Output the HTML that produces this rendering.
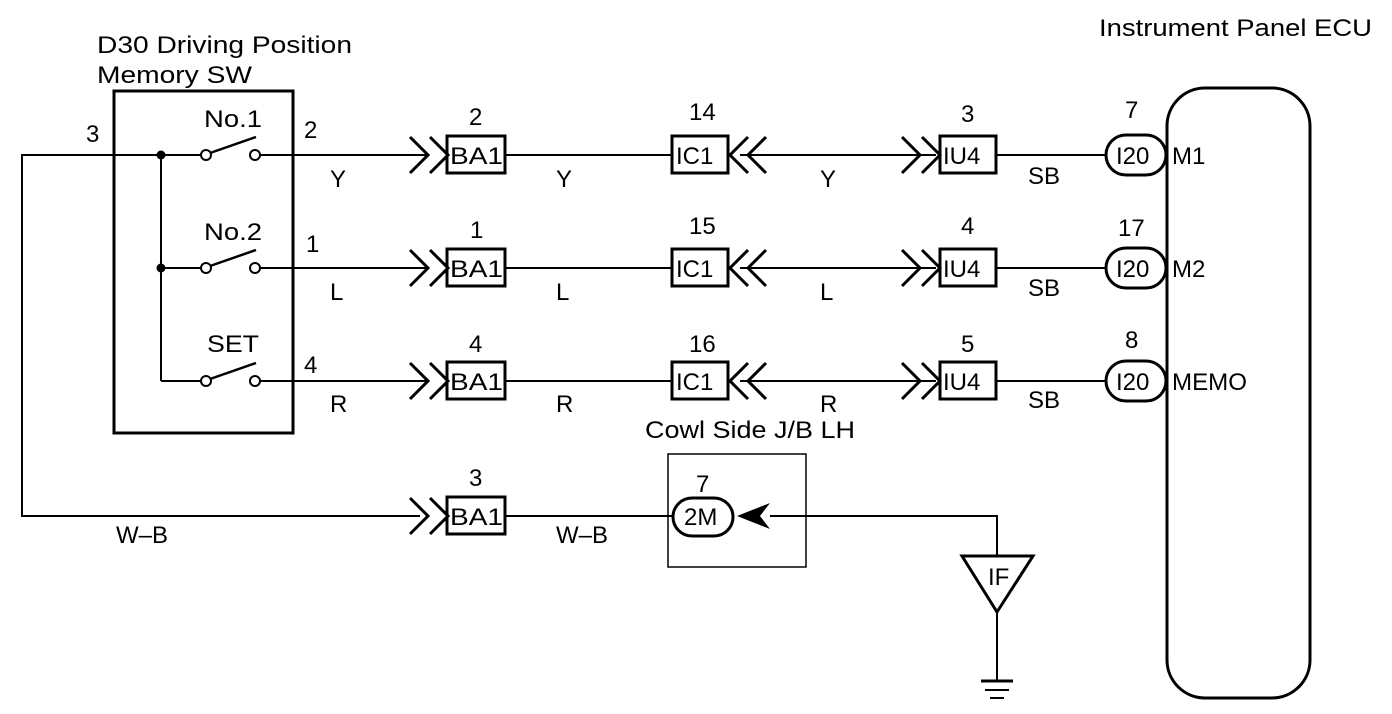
<!DOCTYPE html>
<html><head><style>
html,body{margin:0;padding:0;background:#fff;}
svg{display:block;}
text{font-family:"Liberation Sans",Arial,sans-serif;font-size:24px;fill:#000;}
</style></head><body>
<svg width="1392" height="714" viewBox="0 0 1392 714" xmlns="http://www.w3.org/2000/svg">
<g stroke="#000" fill="none" stroke-width="2">
<polyline points="420,516 22,516 22,155 161,155"/>
<rect x="114" y="91" width="179" height="342" stroke-width="3"/>
<line x1="161" y1="155" x2="161" y2="381"/>
<g>
<line x1="161" y1="155" x2="202" y2="155"/><circle cx="206" cy="155" r="5"/><line x1="210" y1="153" x2="256" y2="137" stroke-width="2.5"/><circle cx="255" cy="155" r="5"/>
<line x1="161" y1="268" x2="202" y2="268"/><circle cx="206" cy="268" r="5"/><line x1="210" y1="266" x2="256" y2="250" stroke-width="2.5"/><circle cx="255" cy="268" r="5"/>
<line x1="161" y1="381" x2="202" y2="381"/><circle cx="206" cy="381" r="5"/><line x1="210" y1="379" x2="256" y2="363" stroke-width="2.5"/><circle cx="255" cy="381" r="5"/>
</g>
<line x1="260" y1="155" x2="428" y2="155"/>
<line x1="260" y1="268" x2="428" y2="268"/>
<line x1="260" y1="381" x2="428" y2="381"/>
<line x1="506" y1="155" x2="671" y2="155"/>
<line x1="506" y1="268" x2="671" y2="268"/>
<line x1="506" y1="381" x2="671" y2="381"/>
<line x1="740" y1="155" x2="936" y2="155"/>
<line x1="740" y1="268" x2="936" y2="268"/>
<line x1="740" y1="381" x2="936" y2="381"/>
<line x1="997" y1="155" x2="1106" y2="155"/>
<line x1="997" y1="268" x2="1106" y2="268"/>
<line x1="997" y1="381" x2="1106" y2="381"/>
<line x1="506" y1="516" x2="672" y2="516"/>
<g stroke-width="3">
<polyline points="410,137 428,155 410,173"/><polyline points="430,137 448,155 430,173"/>
<polyline points="410,250 428,268 410,286"/><polyline points="430,250 448,268 430,286"/>
<polyline points="410,363 428,381 410,399"/><polyline points="430,363 448,381 430,399"/>
<polyline points="410,498 428,516 410,534"/><polyline points="430,498 448,516 430,534"/>
<polyline points="748,137 730,155 748,173"/><polyline points="766,137 748,155 766,173"/>
<polyline points="748,250 730,268 748,286"/><polyline points="766,250 748,268 766,286"/>
<polyline points="748,363 730,381 748,399"/><polyline points="766,363 748,381 766,399"/>
<polyline points="902,137 920,155 902,173"/><polyline points="922,137 940,155 922,173"/>
<polyline points="902,250 920,268 902,286"/><polyline points="922,250 940,268 922,286"/>
<polyline points="902,363 920,381 902,399"/><polyline points="922,363 940,381 922,399"/>
</g>
<g stroke-width="3">
<rect x="447" y="136" width="58" height="37"/><rect x="447" y="249" width="58" height="37"/><rect x="447" y="362" width="58" height="37"/><rect x="447" y="497" width="58" height="37"/>
<rect x="672" y="136" width="56" height="37"/><rect x="672" y="249" width="56" height="37"/><rect x="672" y="362" width="56" height="37"/>
<rect x="940" y="136" width="56" height="37"/><rect x="940" y="249" width="56" height="37"/><rect x="940" y="362" width="56" height="37"/>
<rect x="1106" y="135" width="60" height="40" rx="20"/><rect x="1106" y="248" width="60" height="40" rx="20"/><rect x="1106" y="361" width="60" height="40" rx="20"/>
<rect x="1167" y="88" width="143" height="610" rx="38"/>
<rect x="673" y="498" width="60" height="38" rx="19"/>
</g>
<rect x="668" y="454" width="138" height="113" stroke-width="1.5"/>
<polyline points="770,516 997,516 997,555"/>
<polygon points="962,556 1033,556 997,612" stroke-width="3"/>
<line x1="997" y1="612" x2="997" y2="680"/>
<line x1="981" y1="681" x2="1013" y2="681" stroke-width="3"/>
<line x1="985" y1="690" x2="1009" y2="690"/>
<line x1="990" y1="698" x2="1004" y2="698"/>
</g>
<polygon points="737,516 770,503 760,516 770,529" fill="#000"/>
<circle cx="161" cy="155" r="4.5" fill="#000"/><circle cx="161" cy="268" r="4.5" fill="#000"/>
<text x="97" y="53" textLength="255" lengthAdjust="spacingAndGlyphs">D30 Driving Position</text>
<text x="97" y="83" textLength="155" lengthAdjust="spacingAndGlyphs">Memory SW</text>
<text x="1099" y="36" textLength="273" lengthAdjust="spacingAndGlyphs">Instrument Panel ECU</text>
<text x="86" y="142">3</text>
<text x="204" y="127" textLength="58" lengthAdjust="spacingAndGlyphs">No.1</text><text x="204" y="240" textLength="58" lengthAdjust="spacingAndGlyphs">No.2</text><text x="207" y="352" textLength="52" lengthAdjust="spacingAndGlyphs">SET</text>
<text x="304" y="138">2</text><text x="306" y="252">1</text><text x="304" y="373">4</text>
<text x="330" y="187">Y</text><text x="330" y="300">L</text><text x="330" y="412">R</text>
<text x="469" y="125">2</text><text x="470" y="238">1</text><text x="469" y="352">4</text><text x="469" y="486">3</text>
<text x="450" y="164" textLength="53" lengthAdjust="spacingAndGlyphs">BA1</text><text x="450" y="277" textLength="53" lengthAdjust="spacingAndGlyphs">BA1</text><text x="450" y="390" textLength="53" lengthAdjust="spacingAndGlyphs">BA1</text><text x="450" y="525" textLength="53" lengthAdjust="spacingAndGlyphs">BA1</text>
<text x="556" y="187">Y</text><text x="556" y="300">L</text><text x="556" y="412">R</text>
<text x="689" y="120">14</text><text x="689" y="234">15</text><text x="689" y="352">16</text>
<text x="676" y="164">IC1</text><text x="676" y="277">IC1</text><text x="676" y="390">IC1</text>
<text x="820" y="187">Y</text><text x="820" y="300">L</text><text x="820" y="412">R</text>
<text x="961" y="122">3</text><text x="961" y="234">4</text><text x="961" y="352">5</text>
<text x="943" y="164">IU4</text><text x="943" y="277">IU4</text><text x="943" y="390">IU4</text>
<text x="1028" y="184">SB</text><text x="1028" y="296">SB</text><text x="1028" y="408">SB</text>
<text x="1125" y="118">7</text><text x="1118" y="236">17</text><text x="1125" y="348">8</text>
<text x="1116" y="164">I20</text><text x="1116" y="277">I20</text><text x="1116" y="390">I20</text>
<text x="1172" y="164">M1</text><text x="1172" y="277">M2</text><text x="1172" y="390" textLength="75" lengthAdjust="spacingAndGlyphs">MEMO</text>
<text x="645" y="438" textLength="210" lengthAdjust="spacingAndGlyphs">Cowl Side J/B LH</text>
<text x="696" y="492">7</text>
<text x="684" y="525">2M</text>
<text x="116" y="543">W–B</text><text x="556" y="543">W–B</text>
<text x="988" y="585">IF</text>
</svg>
</body></html>
